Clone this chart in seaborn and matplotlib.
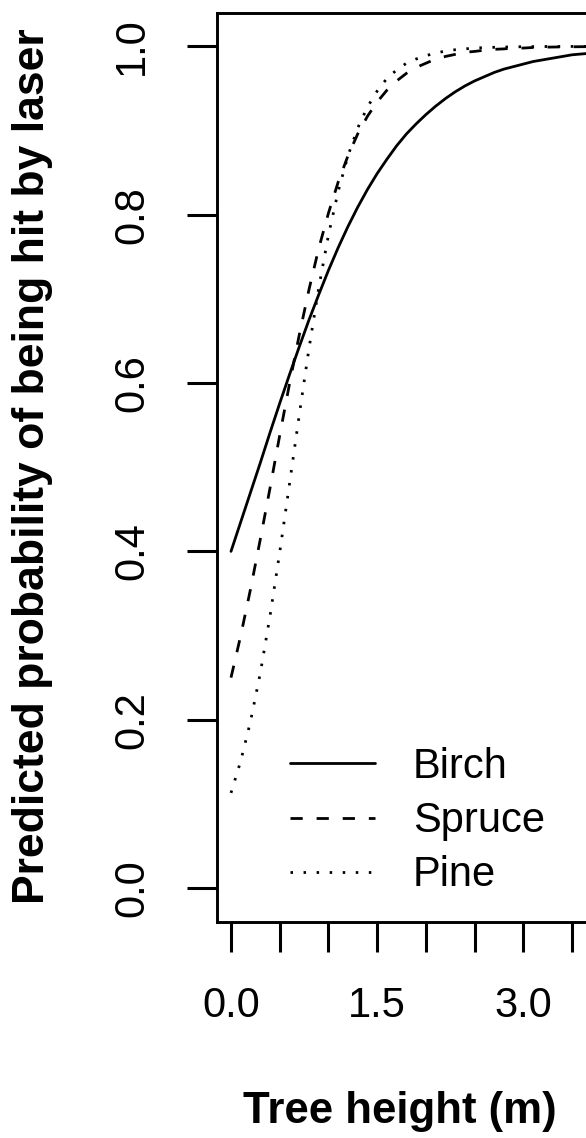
import pandas as pd
import seaborn as sns
import matplotlib.pyplot as plt

# tree height (m) at which the curves were read
height = [0.0, 0.1, 0.2, 0.3, 0.4, 0.5, 0.6, 0.7, 0.8, 0.9,
          1.0, 1.1, 1.2, 1.3, 1.4, 1.5, 1.6, 1.7, 1.8, 1.9,
          2.0, 2.1, 2.2, 2.3, 2.4, 2.5, 2.6, 2.7, 2.8, 2.9,
          3.0, 3.1, 3.2, 3.3, 3.4, 3.5, 3.6, 3.7]

birch = [0.400, 0.435, 0.470, 0.505, 0.541, 0.576, 0.610, 0.643, 0.675, 0.705,
         0.734, 0.761, 0.786, 0.809, 0.830, 0.849, 0.866, 0.882, 0.896, 0.908,
         0.919, 0.929, 0.938, 0.946, 0.953, 0.959, 0.964, 0.969, 0.973, 0.976,
         0.979, 0.982, 0.984, 0.986, 0.988, 0.990, 0.991, 0.992]

spruce = [0.250, 0.300, 0.355, 0.414, 0.475, 0.538, 0.599, 0.657, 0.711, 0.760,
          0.802, 0.839, 0.870, 0.896, 0.917, 0.934, 0.948, 0.959, 0.968, 0.975,
          0.980, 0.985, 0.988, 0.9905, 0.993, 0.994, 0.9955, 0.9965, 0.997, 0.998,
          0.998, 0.9987, 0.999, 0.9992, 0.9994, 0.9995, 0.9996, 0.9997]

pine = [0.113, 0.151, 0.198, 0.255, 0.323, 0.399, 0.480, 0.562, 0.641, 0.713,
        0.776, 0.828, 0.870, 0.903, 0.928, 0.947, 0.962, 0.972, 0.980, 0.985,
        0.989, 0.992, 0.9945, 0.996, 0.997, 0.998, 0.9985, 0.9989, 0.9992, 0.9994,
        0.9996, 0.9997, 0.9998, 0.9998, 0.9999, 0.9999, 0.9999, 0.9999]

species = ["Birch", "Spruce", "Pine"]
x_ticks = [0.0, 0.5, 1.0, 1.5, 2.0, 2.5, 3.0, 3.5]
x_labels = ["0.0", "", "", "1.5", "", "", "3.0", ""]
y_ticks = [0.0, 0.2, 0.4, 0.6, 0.8, 1.0]
y_labels = ["0.0", "0.2", "0.4", "0.6", "0.8", "1.0"]

df = pd.DataFrame({
    "height": height * 3,
    "prob": birch + spruce + pine,
    "species": [s for s in species for _ in height],
})

sns.set_style("white")
plt.rcParams["font.family"] = ["Liberation Sans", "DejaVu Sans"]
plt.rcParams["text.color"] = "black"

styles = {"Birch": "-", "Spruce": (0, (4.4, 5.0)), "Pine": (0, (0.9, 3.8))}

fig = plt.figure(figsize=(5.86, 11.38), dpi=100)
ax = fig.add_axes([217 / 586, 1 - 921.7 / 1138, 378 / 586, 909 / 1138])

for sp in species:
    sns.lineplot(data=df[df["species"] == sp], x="height", y="prob",
                 estimator=None, sort=False, color="black", lw=2.0,
                 linestyle=styles[sp], label=sp, ax=ax)

ax.set_xlim(-0.1436, 3.734)
ax.set_ylim(-0.04, 1.04)
ax.set_xticks(x_ticks, labels=x_labels)
ax.set_yticks(y_ticks, labels=y_labels)
ax.tick_params(bottom=True, left=True, direction="out", length=21.6,
               width=2.2, pad=25, labelsize=30, colors="black")
ax.tick_params(axis="y", labelrotation=90)
for lab in ax.get_yticklabels():
    lab.set_va("center")
for s in ax.spines.values():
    s.set_visible(True)
    s.set_linewidth(2.1)
    s.set_color("black")
ax.set_xlabel("")
ax.set_ylabel("")

ax.legend(loc="center left", bbox_to_anchor=(0.193, 0.1106), frameon=False,
          fontsize=30, handlelength=2.04, handletextpad=0.91,
          labelspacing=0.34, borderpad=0, borderaxespad=0)

fig.text(400 / 586, 1 - 1123 / 1138, "Tree height (m)", fontsize=31.5,
         fontweight="bold", ha="center", va="baseline", color="black")
fig.text(33 / 586, 1 - 466 / 1138, "Predicted probability of being hit by laser",
         fontsize=32, fontweight="bold", rotation=90, ha="center", va="center",
         color="black")

fig.savefig("out.png", dpi=100)
